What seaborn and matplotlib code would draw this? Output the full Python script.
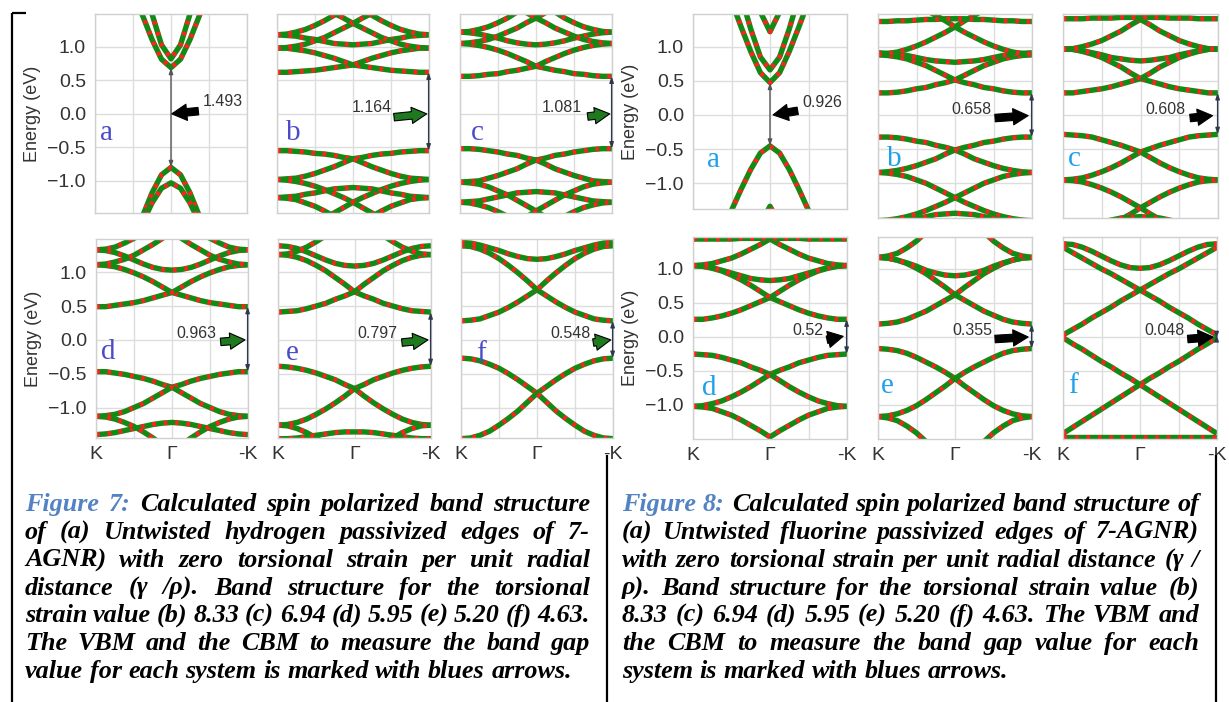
import matplotlib
matplotlib.use("Agg")
import matplotlib.pyplot as plt
import seaborn as sns
from matplotlib.lines import Line2D

# ---------------- data ----------------
# k-path sampled from Gamma (0) to -K (1); bands are mirrored onto the K side
K_HALF = [0.0, 0.125, 0.25, 0.375, 0.5, 0.625, 0.75, 0.875, 1.0]
K_TICKS = [-1.0, -0.5, 0.0, 0.5, 1.0]
K_LABELS = ["K", "", "\u0393", "", "-K"]
E_TICKS = [-1.0, -0.5, 0.0, 0.5, 1.0]

# Figure 7: hydrogen passivized 7-AGNR (energies in eV, Gamma -> -K)
H_A = [
    [0.69, 0.815, 1.11, 1.47, 1.87, 2.3, 2.7, 3.1, 3.5],
    [0.82, 1.03, 1.49, 2.04, 2.6, 3.2, 3.8, 4.4, 5.0],
    [-0.80, -0.91, -1.18, -1.53, -1.9, -2.3, -2.7, -3.1, -3.5],
    [-1.03, -1.11, -1.33, -1.63, -2.0, -2.4, -2.8, -3.2, -3.6],
]
H_B = [
    [0.73, 0.71, 0.69, 0.67, 0.65, 0.64, 0.63, 0.62, 0.62],
    [0.73, 0.78, 0.83, 0.87, 0.91, 0.94, 0.96, 0.98, 0.98],
    [1.03, 1.04, 1.05, 1.08, 1.11, 1.13, 1.16, 1.17, 1.18],
    [1.35, 1.28, 1.21, 1.14, 1.09, 1.04, 1.01, 0.99, 0.98],
    [1.35, 1.43, 1.50, 1.57, 1.63, 1.68, 1.72, 1.74, 1.75],
    [1.65, 1.56, 1.47, 1.39, 1.32, 1.26, 1.22, 1.19, 1.18],
    [-0.67, -0.65, -0.62, -0.60, -0.59, -0.57, -0.56, -0.55, -0.55],
    [-0.67, -0.73, -0.79, -0.84, -0.89, -0.93, -0.96, -0.97, -0.98],
    [-1.32, -1.25, -1.19, -1.13, -1.08, -1.04, -1.01, -0.99, -0.98],
    [-1.10, -1.11, -1.12, -1.15, -1.18, -1.20, -1.23, -1.24, -1.25],
    [-1.32, -1.40, -1.48, -1.56, -1.62, -1.68, -1.72, -1.74, -1.75],
    [-1.70, -1.61, -1.53, -1.45, -1.38, -1.33, -1.28, -1.26, -1.25],
]
H_C = [
    [0.71, 0.68, 0.65, 0.63, 0.60, 0.59, 0.57, 0.56, 0.56],
    [0.71, 0.78, 0.84, 0.90, 0.95, 0.99, 1.02, 1.04, 1.05],
    [1.03, 1.04, 1.06, 1.09, 1.13, 1.16, 1.19, 1.21, 1.22],
    [1.43, 1.36, 1.28, 1.22, 1.16, 1.11, 1.08, 1.06, 1.05],
    [1.43, 1.51, 1.59, 1.66, 1.73, 1.78, 1.82, 1.84, 1.85],
    [1.70, 1.61, 1.52, 1.43, 1.36, 1.30, 1.26, 1.23, 1.22],
    [-0.69, -0.66, -0.62, -0.60, -0.57, -0.55, -0.53, -0.52, -0.52],
    [-0.69, -0.75, -0.82, -0.87, -0.92, -0.96, -1.00, -1.01, -1.02],
    [-1.16, -1.17, -1.18, -1.21, -1.24, -1.27, -1.30, -1.31, -1.32],
    [-1.45, -1.37, -1.29, -1.21, -1.15, -1.09, -1.05, -1.03, -1.02],
    [-1.45, -1.54, -1.62, -1.70, -1.77, -1.82, -1.87, -1.89, -1.90],
    [-1.80, -1.71, -1.62, -1.53, -1.46, -1.40, -1.36, -1.33, -1.32],
]
H_D = [
    [0.70, 0.66, 0.62, 0.58, 0.55, 0.53, 0.51, 0.49, 0.49],
    [0.70, 0.78, 0.86, 0.93, 0.99, 1.04, 1.08, 1.10, 1.11],
    [1.03, 1.04, 1.07, 1.12, 1.18, 1.24, 1.29, 1.32, 1.33],
    [1.60, 1.50, 1.41, 1.33, 1.25, 1.19, 1.15, 1.12, 1.11],
    [1.90, 1.79, 1.68, 1.58, 1.50, 1.43, 1.37, 1.34, 1.33],
    [-0.70, -0.66, -0.61, -0.57, -0.54, -0.51, -0.49, -0.47, -0.47],
    [-0.70, -0.78, -0.86, -0.94, -1.00, -1.06, -1.10, -1.12, -1.13],
    [-1.22, -1.23, -1.25, -1.28, -1.31, -1.34, -1.37, -1.39, -1.40],
    [-1.65, -1.55, -1.45, -1.36, -1.28, -1.22, -1.17, -1.14, -1.13],
]
H_E = [
    [0.71, 0.65, 0.60, 0.54, 0.50, 0.46, 0.43, 0.42, 0.41],
    [0.71, 0.82, 0.92, 1.02, 1.10, 1.17, 1.22, 1.25, 1.26],
    [1.09, 1.10, 1.13, 1.18, 1.24, 1.30, 1.35, 1.38, 1.39],
    [1.90, 1.78, 1.66, 1.54, 1.45, 1.37, 1.31, 1.27, 1.26],
    [-0.72, -0.66, -0.59, -0.54, -0.49, -0.45, -0.42, -0.40, -0.39],
    [-0.72, -0.83, -0.93, -1.02, -1.10, -1.17, -1.22, -1.25, -1.26],
    [-1.36, -1.36, -1.37, -1.39, -1.41, -1.43, -1.45, -1.46, -1.46],
    [-1.90, -1.78, -1.66, -1.54, -1.45, -1.37, -1.31, -1.27, -1.26],
]
H_F = [
    [0.74, 0.65, 0.56, 0.48, 0.41, 0.36, 0.31, 0.29, 0.28],
    [0.74, 0.87, 0.99, 1.10, 1.20, 1.28, 1.34, 1.38, 1.39],
    [1.19, 1.20, 1.23, 1.27, 1.32, 1.36, 1.40, 1.43, 1.44],
    [-0.79, -0.69, -0.59, -0.50, -0.42, -0.36, -0.31, -0.28, -0.27],
    [-0.79, -0.92, -1.05, -1.16, -1.26, -1.35, -1.41, -1.45, -1.46],
]

# Figure 8: fluorine passivized 7-AGNR
F_A = [
    [0.475, 0.62, 0.93, 1.29, 1.67, 2.05, 2.44, 2.83, 3.24],
    [0.66, 0.85, 1.26, 1.74, 2.25, 2.8, 3.3, 3.8, 4.3],
    [1.22, 1.51, 2.15, 2.9, 3.6, 4.4, 5.2, 6.0, 6.8],
    [-0.455, -0.56, -0.80, -1.09, -1.40, -1.72, -2.03, -2.35, -2.68],
    [-1.34, -1.60, -2.1, -2.7, -3.3, -3.9, -4.5, -5.1, -5.7],
]
F_B = [
    [0.52, 0.48, 0.45, 0.41, 0.39, 0.36, 0.34, 0.33, 0.33],
    [0.52, 0.59, 0.66, 0.73, 0.78, 0.83, 0.86, 0.88, 0.89],
    [0.78, 0.79, 0.80, 0.82, 0.85, 0.88, 0.90, 0.91, 0.92],
    [1.30, 1.22, 1.15, 1.08, 1.02, 0.97, 0.93, 0.91, 0.90],
    [1.30, 1.39, 1.47, 1.55, 1.62, 1.67, 1.72, 1.74, 1.75],
    [1.42, 1.42, 1.41, 1.41, 1.40, 1.39, 1.39, 1.38, 1.38],
    [-0.51, -0.47, -0.44, -0.40, -0.38, -0.35, -0.33, -0.32, -0.32],
    [-0.51, -0.57, -0.64, -0.69, -0.74, -0.78, -0.81, -0.83, -0.84],
    [-1.21, -1.14, -1.07, -1.00, -0.95, -0.90, -0.87, -0.85, -0.84],
    [-1.21, -1.28, -1.34, -1.40, -1.45, -1.49, -1.52, -1.54, -1.55],
    [-1.44, -1.45, -1.46, -1.49, -1.52, -1.55, -1.58, -1.59, -1.60],
]
F_C = [
    [0.54, 0.50, 0.46, 0.42, 0.39, 0.37, 0.35, 0.33, 0.33],
    [0.54, 0.62, 0.71, 0.78, 0.85, 0.90, 0.94, 0.97, 0.975],
    [0.80, 0.81, 0.83, 0.85, 0.89, 0.92, 0.95, 0.97, 0.975],
    [1.41, 1.33, 1.24, 1.17, 1.10, 1.05, 1.01, 0.98, 0.975],
    [1.41, 1.50, 1.58, 1.65, 1.72, 1.78, 1.82, 1.84, 1.85],
    [1.44, 1.44, 1.44, 1.43, 1.43, 1.43, 1.42, 1.42, 1.42],
    [-0.54, -0.49, -0.44, -0.40, -0.36, -0.32, -0.30, -0.29, -0.28],
    [-0.54, -0.62, -0.70, -0.77, -0.83, -0.88, -0.92, -0.94, -0.95],
    [-1.36, -1.28, -1.20, -1.13, -1.07, -1.02, -0.98, -0.96, -0.95],
    [-1.36, -1.45, -1.53, -1.60, -1.67, -1.73, -1.77, -1.79, -1.80],
    [-1.49, -1.50, -1.51, -1.54, -1.57, -1.60, -1.63, -1.64, -1.65],
]
F_D = [
    [0.58, 0.52, 0.46, 0.40, 0.35, 0.31, 0.28, 0.26, 0.26],
    [0.58, 0.67, 0.76, 0.84, 0.91, 0.97, 1.01, 1.04, 1.05],
    [0.83, 0.84, 0.86, 0.90, 0.94, 0.98, 1.02, 1.04, 1.05],
    [1.44, 1.36, 1.29, 1.22, 1.16, 1.12, 1.08, 1.06, 1.05],
    [1.45, 1.45, 1.45, 1.45, 1.44, 1.44, 1.44, 1.44, 1.44],
    [-0.55, -0.49, -0.44, -0.38, -0.34, -0.30, -0.27, -0.26, -0.25],
    [-0.55, -0.64, -0.73, -0.81, -0.88, -0.94, -0.98, -1.01, -1.02],
    [-1.47, -1.38, -1.30, -1.22, -1.15, -1.10, -1.05, -1.03, -1.02],
]
F_E = [
    [0.62, 0.54, 0.46, 0.38, 0.32, 0.26, 0.22, 0.20, 0.19],
    [0.62, 0.73, 0.83, 0.93, 1.01, 1.08, 1.13, 1.16, 1.17],
    [0.90, 0.91, 0.94, 0.98, 1.04, 1.09, 1.13, 1.16, 1.17],
    [2.00, 1.84, 1.68, 1.54, 1.41, 1.31, 1.23, 1.19, 1.17],
    [-0.61, -0.52, -0.44, -0.37, -0.30, -0.24, -0.20, -0.18, -0.17],
    [-0.61, -0.72, -0.82, -0.92, -1.01, -1.08, -1.13, -1.16, -1.17],
    [-2.00, -1.84, -1.68, -1.54, -1.41, -1.31, -1.23, -1.19, -1.17],
]
F_F = [
    [0.69, 0.61, 0.53, 0.44, 0.36, 0.28, 0.19, 0.11, 0.03],
    [0.69, 0.77, 0.85, 0.93, 1.00, 1.08, 1.16, 1.24, 1.32],
    [1.01, 1.02, 1.06, 1.12, 1.19, 1.26, 1.32, 1.36, 1.37],
    [-0.70, -0.61, -0.53, -0.44, -0.36, -0.27, -0.18, -0.10, -0.01],
    [-0.70, -0.79, -0.88, -0.97, -1.06, -1.15, -1.24, -1.33, -1.42],
    [-1.47, -1.47, -1.47, -1.47, -1.47, -1.47, -1.47, -1.47, -1.47],
]

PANEL_LETTERS = ["a", "b", "c", "d", "e", "f"]
H_GAPS = ["1.493", "1.164", "1.081", "0.963", "0.797", "0.548"]
H_CBM = [0.69, 0.62, 0.56, 0.49, 0.41, 0.28]
H_VBM = [-0.80, -0.55, -0.52, -0.47, -0.39, -0.27]
F_GAPS = ["0.926", "0.658", "0.608", "0.52", "0.355", "0.048"]
F_CBM = [0.475, 0.33, 0.33, 0.26, 0.19, 0.03]
F_VBM = [-0.455, -0.32, -0.28, -0.25, -0.17, -0.02]

CAP7_LINES = [
    "Figure 7: Calculated spin polarized band structure",
    "of (a) Untwisted hydrogen passivized edges of 7-",
    "AGNR) with zero torsional strain per unit radial",
    "distance (\u03b3 /\u03c1).  Band structure for the torsional",
    "strain value (b) 8.33 (c) 6.94 (d) 5.95 (e) 5.20 (f) 4.63.",
    "The VBM and the CBM to measure the band gap",
    "value for each system is marked with blues arrows.",
]
CAP8_LINES = [
    "Figure 8: Calculated spin polarized band structure of",
    "(a) Untwisted fluorine passivized edges of 7-AGNR)",
    "with zero torsional strain per unit radial distance (\u03b3 /",
    "\u03c1).  Band structure for the torsional strain value (b)",
    "8.33 (c) 6.94 (d) 5.95 (e) 5.20 (f) 4.63. The VBM and",
    "the CBM to measure the band gap value for each",
    "system is marked with blues arrows.",
]

# ---------------- style / layout ----------------
FIG_W, FIG_H = 1229, 702
GREEN = "#138a13"
RED = "#ff2020"
sns.set_style("whitegrid", {"grid.color": "#dddddd", "axes.edgecolor": "#d0d0d0"})
plt.rcParams["font.family"] = ["Liberation Sans", "DejaVu Sans"]

fig = plt.figure(figsize=(FIG_W / 100, FIG_H / 100), dpi=100)

H_RECTS = [(95, 14, 247, 213), (277, 14, 429, 213), (460, 14, 612, 213),
           (96, 239, 248, 438), (278, 239, 431, 438), (461, 239, 613, 438)]
F_RECTS = [(693, 14, 847, 209), (878, 14, 1032, 218), (1063, 14, 1218, 218),
           (693, 237, 847, 439), (878, 237, 1032, 439), (1063, 237, 1217, 439)]
H_YLIM = [(-1.48, 1.49)] * 3 + [(-1.45, 1.49)] * 3
F_YLIM = [(-1.38, 1.48), (-1.51, 1.49), (-1.51, 1.49)] + [(-1.5, 1.47)] * 3

H_LET_POS = [(0.03, -0.39), (0.06, -0.39), (0.07, -0.39), (0.03, -0.29), (0.05, -0.30), (0.10, -0.31)]
F_LET_POS = [(0.09, -0.76), (0.06, -0.74), (0.03, -0.74), (0.06, -0.85), (0.02, -0.82), (0.03, -0.82)]

# arrow: (tail_x, tail_y, head_x, head_y) in (axes-frac x, data y); text (x, y, align)
H_ARROWS = [(0.68, 0.04, 0.505, 0.0), (0.77, -0.05, 0.985, 0.0), (0.84, -0.04, 0.985, 0.0),
            (0.82, -0.03, 0.98, 0.0), (0.81, -0.04, 0.98, 0.0), (0.87, -0.04, 0.985, 0.0)]
H_TXT = [(0.71, 0.18, "left"), (0.755, 0.09, "right"), (0.80, 0.09, "right"),
         (0.79, 0.10, "right"), (0.78, 0.10, "right"), (0.85, 0.10, "right")]
F_ARROWS = [(0.68, 0.06, 0.52, 0.0), (0.76, -0.04, 0.975, -0.005), (0.82, -0.04, 0.965, -0.005),
            (0.87, -0.04, 0.975, 0.01), (0.76, -0.03, 0.975, 0.0), (0.81, -0.03, 0.975, 0.0)]
F_TXT = [(0.71, 0.18, "left"), (0.74, 0.08, "right"), (0.79, 0.08, "right"),
         (0.845, 0.09, "right"), (0.74, 0.09, "right"), (0.79, 0.09, "right")]

H_BANDS = [H_A, H_B, H_C, H_D, H_E, H_F]
F_BANDS = [F_A, F_B, F_C, F_D, F_E, F_F]


def full_path(band):
    x = [-k for k in reversed(K_HALF)] + K_HALF[1:]
    y = list(reversed(band)) + band[1:]
    return x, y


def make_panel(rect, ylim, bands, idx, letter, let_pos, let_color, gap_txt, cbm, vbm,
               arrow, txt, arrow_fc):
    x0, y0, x1, y1 = rect
    ax = fig.add_axes([x0 / FIG_W, 1 - y1 / FIG_H, (x1 - x0) / FIG_W, (y1 - y0) / FIG_H])
    for band in bands:
        kx, ey = full_path(band)
        sns.lineplot(x=kx, y=ey, ax=ax, color=GREEN, lw=3.9, sort=False,
                     estimator=None, solid_capstyle="butt")
        sns.lineplot(x=kx, y=ey, ax=ax, color=RED, lw=3.3, sort=False, estimator=None,
                     linestyle=(0, (0.8, 1.7)), dash_capstyle="butt")
    ax.set_xlim(-1, 1)
    ax.set_ylim(*ylim)
    ax.set_xticks(K_TICKS)
    ax.set_yticks(E_TICKS)
    row2 = idx >= 3
    ax.set_xticklabels(K_LABELS if row2 else [""] * 5, fontsize=14, color="#333333")
    if idx % 3 == 0:
        ax.set_yticklabels(["\u22121.0", "\u22120.5", "0.0", "0.5", "1.0"], fontsize=14,
                           color="#333333")
        ax.set_ylabel("Energy (eV)", fontsize=13, color="#333333", labelpad=5)
    else:
        ax.set_yticklabels([])
        ax.set_ylabel("")
    ax.set_xlabel("")
    ax.tick_params(axis="x", pad=2)
    ax.tick_params(axis="y", pad=3)
    for sp in ax.spines.values():
        sp.set_color("#d0d0d0")
        sp.set_linewidth(1.0)
    ax.grid(True, color="#dddddd", lw=1.0)
    # panel letter
    ax.text(let_pos[0], let_pos[1], letter, transform=ax.get_yaxis_transform(),
            fontsize=21, family="Liberation Serif", color=let_color, ha="left", va="baseline")
    # gap marker
    gx = 0.0 if idx == 0 else 0.995
    ax.annotate("", xy=(gx, vbm), xytext=(gx, cbm), xycoords="data",
                arrowprops=dict(arrowstyle="<|-|>,head_length=0.35,head_width=0.12",
                                color="#2e3a4c" if idx else "#555555", lw=1.0,
                                shrinkA=0, shrinkB=0, mutation_scale=10),
                annotation_clip=False)
    tr = ax.get_yaxis_transform()
    ax.annotate("", xy=(arrow[2], arrow[3]), xytext=(arrow[0], arrow[1]),
                xycoords=tr, textcoords=tr,
                arrowprops=dict(arrowstyle="simple,head_length=0.6,head_width=0.65,tail_width=0.3",
                                fc=arrow_fc, ec="black", lw=0.8, shrinkA=0, shrinkB=0,
                                mutation_scale=18),
                annotation_clip=False)
    ax.text(txt[0], txt[1], gap_txt, transform=tr, ha=txt[2], va="center", fontsize=11.5,
            color="#333333")
    return ax


for i in range(6):
    make_panel(H_RECTS[i], H_YLIM[i], H_BANDS[i], i, PANEL_LETTERS[i], H_LET_POS[i],
               "#4b4bc8", H_GAPS[i], H_CBM[i], H_VBM[i], H_ARROWS[i], H_TXT[i],
               "black" if i == 0 else "#1f7a1f")
    make_panel(F_RECTS[i], F_YLIM[i], F_BANDS[i], i, PANEL_LETTERS[i], F_LET_POS[i],
               "#1ea0ea", F_GAPS[i], F_CBM[i], F_VBM[i], F_ARROWS[i], F_TXT[i], "black")


# ---------------- frame lines ----------------
def fig_line(xs, ys, lw=1.6):
    fig.add_artist(Line2D([x / FIG_W for x in xs], [1 - y / FIG_H for y in ys],
                          transform=fig.transFigure, color="black", lw=lw,
                          solid_capstyle="butt"))


fig_line([12, 12], [13, 702])
fig_line([12, 26], [13, 13])
fig_line([607, 607], [455, 702])
fig_line([1216, 1216], [455, 702])

# ---------------- captions ----------------
CAP_SIZE = 18.8
BLUE = "#5383c3"
renderer = fig.canvas.get_renderer()


def justified(lines, x0, x1, baselines):
    W = x1 - x0
    for li, (line, yb) in enumerate(zip(lines, baselines)):
        words = line.split()
        size = CAP_SIZE
        arts, widths = [], []
        for wi, w in enumerate(words):
            color = BLUE if (li == 0 and wi < 2) else "black"
            t = fig.text(0, 0, w, color=color, ha="left", va="baseline",
                         family="Liberation Serif", weight="bold", style="italic",
                         fontsize=size)
            arts.append(t)
            widths.append(t.get_window_extent(renderer).width)
        total = sum(widths)
        n = len(words)
        min_gap = 0.18 * size * 100 / 72
        last = li == len(lines) - 1
        if last:
            gap = 0.25 * size * 100 / 72
        else:
            gap = (W - total) / (n - 1)
            if gap < min_gap:
                scale = (W - (n - 1) * min_gap) / total
                for t in arts:
                    t.set_fontsize(size * scale)
                widths = [t.get_window_extent(renderer).width for t in arts]
                gap = (W - sum(widths)) / (n - 1)
        x = x0
        for t, w in zip(arts, widths):
            t.set_position((x / FIG_W, 1 - yb / FIG_H))
            x += w + gap


BASELINES = [511, 539, 567, 595, 622, 650, 678]
justified(CAP7_LINES, 25, 590, BASELINES)
justified(CAP8_LINES, 622, 1199, BASELINES)

fig.savefig("out.png", dpi=100)
